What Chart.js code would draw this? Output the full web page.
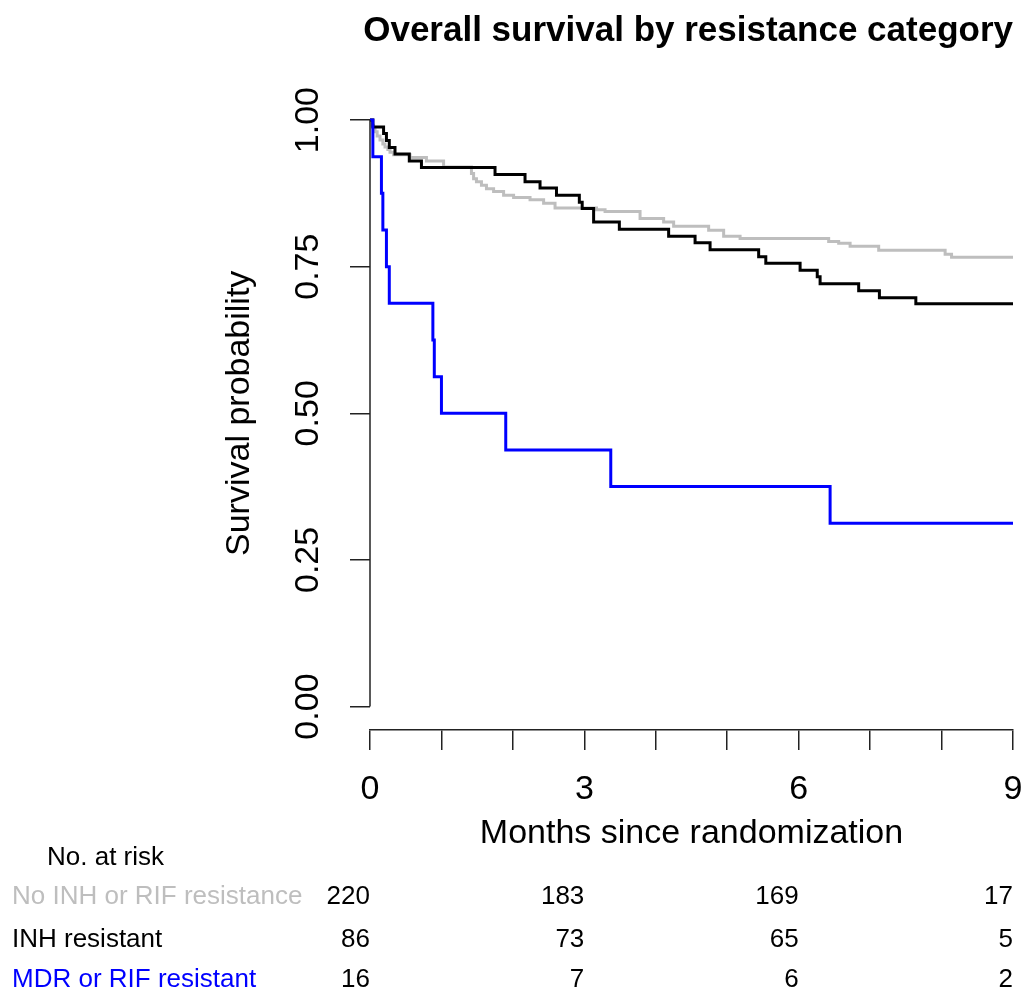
<!DOCTYPE html>
<html>
<head>
<meta charset="utf-8">
<script src="https://cdn.jsdelivr.net/npm/chart.js@4.4.1/dist/chart.umd.min.js"></script>
<style>
  html, body { margin: 0; padding: 0; background: #fff; }
  canvas { display: block; }
</style>
</head>
<body>
<canvas id="km-canvas" width="1025" height="993"></canvas>
<script>
const FONT = "'Liberation Sans', Arial, sans-serif"

const GROUP_NAMES = ['No INH or RIF resistance', 'INH resistant', 'MDR or RIF resistant']
const GROUP_COLORS = ['#bebebe', '#000000', '#0000ff']

// KM curves (months, survival)
const NOINH_TIME = [0, 0.03, 0.05, 0.07, 0.10, 0.14, 0.18, 0.21, 0.25, 0.28, 0.33, 0.56, 0.79, 1.03, 1.42, 1.45, 1.49, 1.56, 1.63, 1.73, 1.87, 2.01, 2.24, 2.43, 2.59, 3.17, 3.29, 3.78, 4.11, 4.25, 4.74, 4.95, 5.18, 6.42, 6.56, 6.72, 7.12, 8.05, 8.14, 9]
const NOINH_SURV = [1, 0.991, 0.986, 0.980, 0.973, 0.966, 0.959, 0.954, 0.950, 0.945, 0.941, 0.936, 0.930, 0.920, 0.909, 0.900, 0.895, 0.889, 0.883, 0.878, 0.872, 0.868, 0.864, 0.858, 0.850, 0.847, 0.844, 0.832, 0.826, 0.819, 0.812, 0.802, 0.798, 0.793, 0.790, 0.785, 0.778, 0.771, 0.766, 0.766]

const INH_TIME = [0, 0.04, 0.19, 0.23, 0.27, 0.35, 0.55, 0.72, 1.75, 2.17, 2.38, 2.61, 2.93, 2.97, 3.13, 3.49, 4.18, 4.55, 4.76, 5.44, 5.54, 6.02, 6.26, 6.30, 6.84, 7.13, 7.64, 9]
const INH_SURV = [1, 0.988, 0.977, 0.965, 0.953, 0.942, 0.930, 0.919, 0.907, 0.895, 0.884, 0.872, 0.860, 0.849, 0.826, 0.814, 0.802, 0.791, 0.779, 0.767, 0.756, 0.744, 0.733, 0.721, 0.709, 0.697, 0.687, 0.687]

const MDR_TIME = [0, 0.04, 0.16, 0.18, 0.23, 0.27, 0.88, 0.90, 1.00, 1.90, 3.37, 6.44, 9]
const MDR_SURV = [1, 0.9375, 0.875, 0.8125, 0.75, 0.6875, 0.625, 0.5625, 0.5, 0.4375, 0.375, 0.3125, 0.3125]

// number at risk table
const RISK_TIMES = [0, 3, 6, 9]
const RISK_NOINH = [220, 183, 169, 17]
const RISK_INH = [86, 73, 65, 5]
const RISK_MDR = [16, 7, 6, 2]

const X_TICKS = [0, 1, 2, 3, 4, 5, 6, 7, 8, 9]
const X_LABELED = [0, 3, 6, 9]
const Y_TICKS = [0, 0.25, 0.5, 0.75, 1]

function toPoints(times, surv){
  return times.map((t, i) => ({x: t, y: surv[i]}))
}

const AXIS_COLOR = '#222'

// y axis line only spans 0..1 like base R, plus rotated tick labels and the risk table
const extrasPlugin = {
  id: 'extras',
  afterDraw(chart){
    const ctx = chart.ctx
    const xs = chart.scales.x
    const ys = chart.scales.y
    const left = chart.chartArea.left
    ctx.save()
    ctx.strokeStyle = AXIS_COLOR
    ctx.lineWidth = 1.5
    ctx.beginPath()
    ctx.moveTo(left, ys.getPixelForValue(0))
    ctx.lineTo(left, ys.getPixelForValue(1))
    ctx.stroke()

    ctx.fillStyle = '#000'
    ctx.font = '34px ' + FONT
    ctx.textAlign = 'center'
    ctx.textBaseline = 'middle'
    Y_TICKS.forEach(v => {
      ctx.save()
      ctx.translate(309, ys.getPixelForValue(v))
      ctx.rotate(-Math.PI / 2)
      ctx.fillText(v.toFixed(2), 0, 0)
      ctx.restore()
    })

    ctx.font = '26px ' + FONT
    ctx.textAlign = 'left'
    ctx.fillText('No. at risk', 47, 858)
    const rows = [RISK_NOINH, RISK_INH, RISK_MDR]
    const rowY = [897, 940, 980]
    rows.forEach((row, r) => {
      ctx.textAlign = 'left'
      ctx.fillStyle = GROUP_COLORS[r]
      ctx.fillText(GROUP_NAMES[r], 12, rowY[r])
      ctx.textAlign = 'right'
      ctx.fillStyle = '#000'
      row.forEach((n, i) => {
        ctx.fillText(String(n), xs.getPixelForValue(RISK_TIMES[i]), rowY[r])
      })
    })
    ctx.restore()
  }
}

const canvas = document.getElementById('km-canvas')
new Chart(canvas, {
  type: 'line',
  data: {
    datasets: [
      {label: GROUP_NAMES[2], data: toPoints(MDR_TIME, MDR_SURV), borderColor: GROUP_COLORS[2], order: 0},
      {label: GROUP_NAMES[1], data: toPoints(INH_TIME, INH_SURV), borderColor: GROUP_COLORS[1], order: 1},
      {label: GROUP_NAMES[0], data: toPoints(NOINH_TIME, NOINH_SURV), borderColor: GROUP_COLORS[0], order: 2}
    ].map(d => Object.assign(d, {stepped: 'before', borderWidth: 3, pointRadius: 0, fill: false, tension: 0}))
  },
  options: {
    responsive: false,
    animation: false,
    events: [],
    layout: {
      padding: {left: 0, right: 12, top: 0, bottom: 0}
    },
    plugins: {
      legend: {display: false},
      tooltip: {enabled: false},
      title: {
        display: true,
        text: 'Overall survival by resistance category',
        align: 'end',
        color: '#000',
        font: {family: FONT, size: 35, weight: 'bold'},
        padding: {top: 10, bottom: 44.6}
      }
    },
    scales: {
      x: {
        type: 'linear',
        min: 0,
        max: 9,
        afterBuildTicks: s => { s.ticks = X_TICKS.map(v => ({value: v})) },
        afterFit: s => { s.height = 263; s.paddingLeft = 0; s.paddingRight = 0 },
        ticks: {
          autoSkip: false,
          maxRotation: 0,
          padding: 19,
          color: '#000',
          font: {family: FONT, size: 34},
          callback: v => X_LABELED.includes(v) ? String(v) : ''
        },
        grid: {drawOnChartArea: false, drawTicks: true, tickLength: 20, color: AXIS_COLOR, lineWidth: 1.5},
        border: {display: true, color: AXIS_COLOR, width: 1.5},
        title: {
          display: true,
          text: 'Months since randomization',
          color: '#000',
          font: {family: FONT, size: 34},
          padding: {top: 0, bottom: 139}
        }
      },
      y: {
        type: 'linear',
        min: -0.04,
        max: 1.04,
        afterBuildTicks: s => { s.ticks = Y_TICKS.map(v => ({value: v})) },
        afterFit: s => { s.width = 370 },
        ticks: {display: false},
        grid: {drawOnChartArea: false, drawTicks: true, tickLength: 20, color: AXIS_COLOR, lineWidth: 1.5},
        border: {display: false},
        title: {
          display: true,
          text: 'Survival probability',
          color: '#000',
          font: {family: FONT, size: 34},
          padding: {top: 219, bottom: 0}
        }
      }
    }
  },
  plugins: [extrasPlugin]
})
</script>
</body>
</html>
